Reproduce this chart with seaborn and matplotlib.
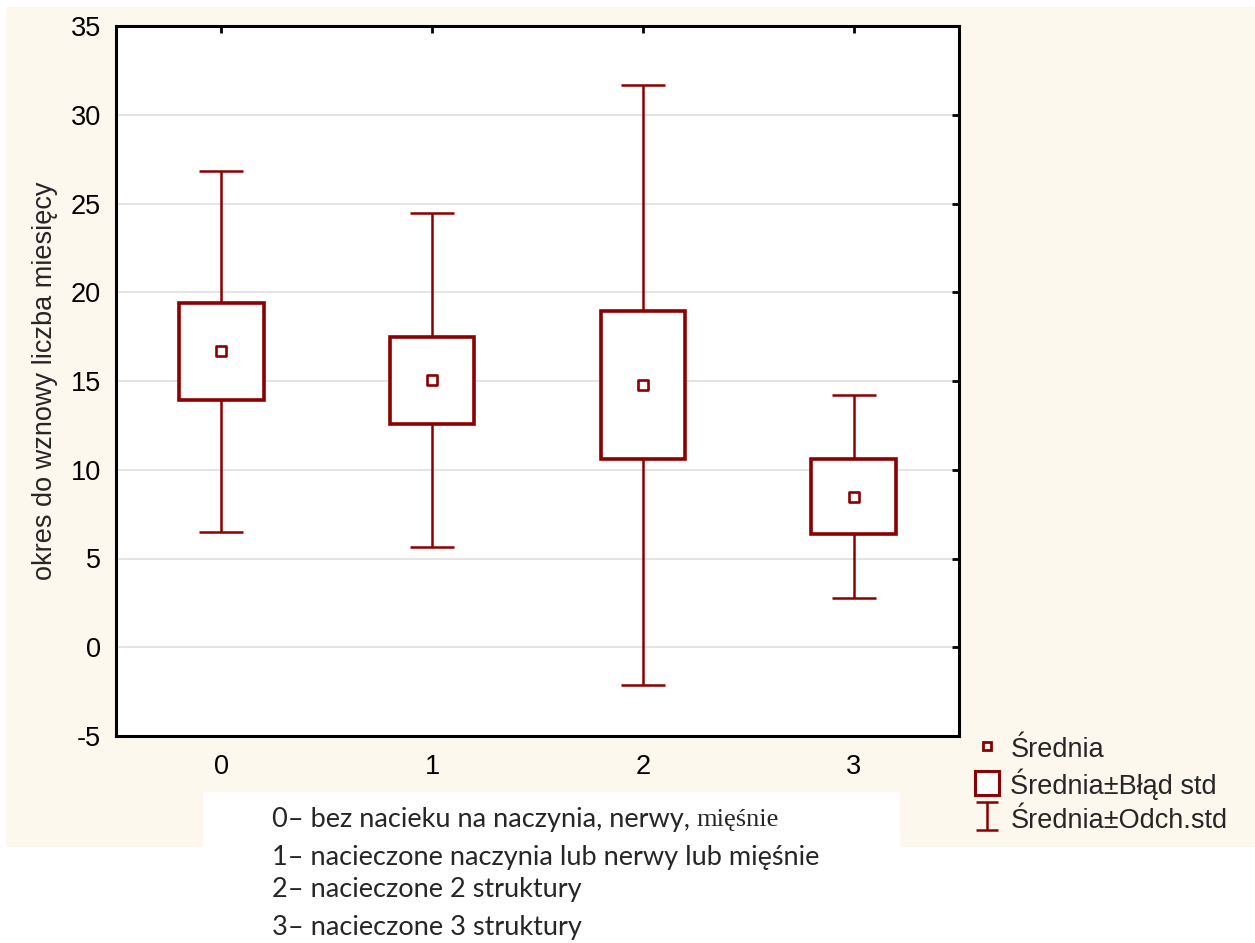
import matplotlib
matplotlib.use("Agg")
import matplotlib.pyplot as plt
import seaborn as sns
import pandas as pd
from matplotlib.patches import Rectangle
from matplotlib.lines import Line2D
from matplotlib.path import Path

# data
groups = [0, 1, 2, 3]
means = [16.67, 15.05, 14.77, 8.49]
std_err = [2.75, 2.45, 4.16, 2.10]
std_dev = [10.18, 9.40, 16.90, 5.71]
y_ticks = [-5, 0, 5, 10, 15, 20, 25, 30, 35]
legend_labels = ["Średnia", "Średnia±Błąd std", "Średnia±Odch.std"]
notes = ["0– bez nacieku na naczynia, nerwy, ",
         "1– nacieczone naczynia lub nerwy lub mięśnie",
         "2– nacieczone 2 struktury",
         "3– nacieczone 3 struktury"]
note_serif = "mięśnie"
y_label = "okres do wznowy liczba miesięcy"

red = "#8b0000"
cream = "#fdf8ed"

sns.set_style("white")
plt.rcParams["font.family"] = ["Liberation Sans", "DejaVu Sans"]
plt.rcParams["axes.unicode_minus"] = False

df = pd.DataFrame({"grupa": groups, "srednia": means, "se": std_err, "sd": std_dev})

fig = plt.figure(figsize=(12.55, 9.43), dpi=100)
fig.patch.set_facecolor("white")
# cream panel + white note box
fig.patches.append(Rectangle((6 / 1255, 1 - 847 / 943), 1, (847 - 7) / 943,
                             transform=fig.transFigure, facecolor=cream, edgecolor="none", zorder=-2))
fig.patches.append(Rectangle((203 / 1255, 0.05), (900 - 203) / 1255, 1 - 792 / 943 - 0.05,
                             transform=fig.transFigure, facecolor="white", edgecolor="none", zorder=-1))

ax = fig.add_axes([116 / 1255, 1 - 736 / 943, (959 - 116) / 1255, (736 - 26) / 943])
ax.set_zorder(1)
ax.set_facecolor("white")

# mean +- sd whiskers
ax.errorbar(df["grupa"], df["srednia"], yerr=df["sd"], fmt="none", ecolor=red,
            elinewidth=1.8, capsize=15.5, capthick=1.8, zorder=2)
# mean +- se boxes
ax.bar(df["grupa"], 2 * df["se"], bottom=df["srednia"] - df["se"], width=0.4,
       facecolor="white", edgecolor=red, linewidth=2.6, zorder=3)
# means
sns.scatterplot(data=df, x="grupa", y="srednia", marker="s", s=50, color="white",
                edgecolor=red, linewidth=1.9, zorder=4, ax=ax, legend=False)

ax.set_xlim(-0.5, 3.5)
ax.set_ylim(-5, 35)
ax.set_xticks(groups)
ax.set_xticklabels([str(g) for g in groups])
ax.set_yticks(y_ticks)
ax.set_xlabel("")
ax.set_ylabel(y_label, fontsize=19.5, labelpad=9)
ax.yaxis.grid(True, color="#dcdcdc", linewidth=1.1)
ax.set_axisbelow(True)
for s in ax.spines.values():
    s.set_visible(True)
    s.set_color("black")
    s.set_linewidth(2.2)
ax.tick_params(axis="both", direction="in", length=5, width=2, labelsize=19.5,
               top=True, right=True, colors="black")
ax.tick_params(axis="y", pad=11)
ax.tick_params(axis="x", pad=13)

# legend
ibar = Path([(-0.4, -0.5), (0.4, -0.5), (0, -0.5), (0, 0.5), (-0.4, 0.5), (0.4, 0.5)],
            [Path.MOVETO, Path.LINETO, Path.MOVETO, Path.LINETO, Path.MOVETO, Path.LINETO])
handles = [
    Line2D([], [], linestyle="none", marker="s", markersize=6, markerfacecolor="white",
           markeredgecolor=red, markeredgewidth=2),
    Line2D([], [], linestyle="none", marker="s", markersize=17, markerfacecolor="white",
           markeredgecolor=red, markeredgewidth=2.2),
    Line2D([], [], linestyle="none", marker=ibar, markersize=20, fillstyle="none",
           markeredgecolor=red, markeredgewidth=1.8),
]
fig.legend(handles, legend_labels, loc="upper left", bbox_to_anchor=(963 / 1255, 1 - 724 / 943),
           frameon=False, fontsize=19.5, handlelength=1.0, handleheight=1.1, handletextpad=0.35,
           labelspacing=0.2, borderaxespad=0)

# notes under the chart
note_y = [820, 857, 890, 928]
texts = []
for line, yy in zip(notes, note_y):
    t = fig.text(272 / 1255, 1 - yy / 943, line, fontsize=19.5, family="Lato", va="center", ha="left")
    texts.append(t)
fig.canvas.draw()
bb = texts[0].get_window_extent()
fig.text(bb.x1 / fig.bbox.width, 1 - note_y[0] / 943, note_serif, fontsize=19,
         family="Liberation Serif", va="center", ha="left")

fig.savefig("out.png", dpi=100)
